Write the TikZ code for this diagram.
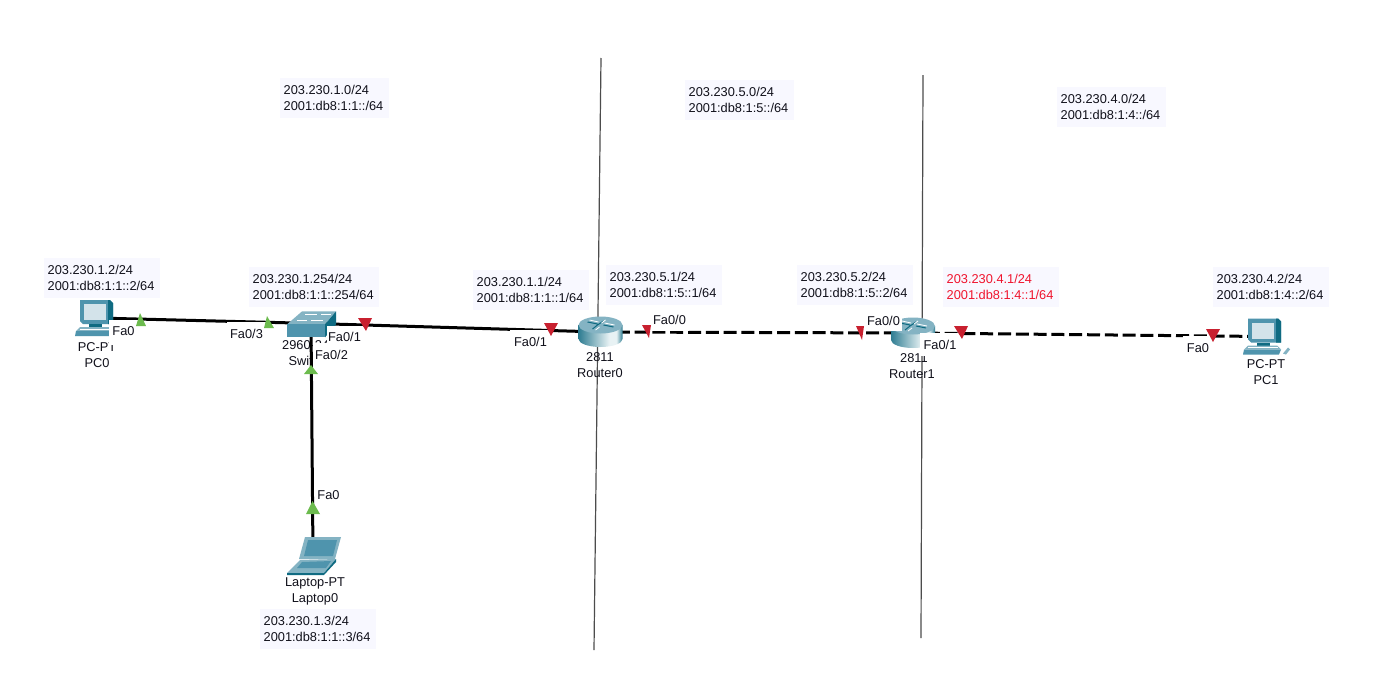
\documentclass[tikz,border=0pt]{standalone}
\usepackage{fontspec}
\setmainfont{Liberation Sans}
\definecolor{addrbg}{HTML}{F8F8FF}
\definecolor{linkc}{HTML}{000000}
\definecolor{upg}{HTML}{6CBB4E}
\definecolor{downr}{HTML}{C8202F}
\definecolor{redtxt}{HTML}{F0142D}
\definecolor{ink}{HTML}{10101A}
\definecolor{tealA}{HTML}{4F94AD}
\definecolor{tealB}{HTML}{0F6B82}
\definecolor{tealC}{HTML}{84B3C3}
\definecolor{tealD}{HTML}{D3E3EA}
\definecolor{bodyL}{HTML}{2F7D92}
\definecolor{bodyW}{HTML}{E8F2F4}
\pgfdeclarehorizontalshading{rbody}{100bp}{color(0bp)=(bodyL);color(25bp)=(bodyL);color(60bp)=(bodyW);color(68bp)=(bodyW);color(75bp)=(bodyL);color(100bp)=(bodyL)}
\tikzset{
  x=1pt,y=-1pt,
  txt/.style={font=\fontsize{12.8}{16}\selectfont,text=ink,inner sep=0pt,align=center},
  addr/.style={txt,anchor=north west,fill=addrbg,align=left,inner xsep=3.5pt,inner ysep=0pt,text width=#1-7pt,minimum height=40pt},
  port/.style n args={3}{font=\fontsize{12.8}{16}\selectfont,text=ink,inner sep=0pt,fill=white,anchor=base,text height=#1,text depth=#2,minimum width=#3},
  dev/.style={inner sep=0pt,outer sep=0pt,minimum size=0pt},
  wire/.style={line width=3pt,linkc},
  dashwire/.style={line width=3pt,linkc,dash pattern=on 13pt off 4.8pt},
  wall/.style={line width=1.2pt,black!70},
  pcicon/.pic={
    \fill[tealA] (-17,-18) -- (13,-18) -- (16,-15) -- (16,6) -- (-14,6) -- (-17,3) -- cycle;
    \fill[tealB] (11,-18) -- (13,-18) -- (16,-15) -- (16,6) -- (11,6) -- cycle;
    \fill[tealD] (-13,-14) rectangle (9,2);
    \fill[tealB] (-8,6) rectangle (5,9);
    \fill[tealC] (-17,9) -- (12,9) -- (16,13) -- (-21,13) -- cycle;
    \fill[tealA] (-21,13) -- (16,13) -- (14,18) -- (-22,18) -- cycle;
    \draw[white,line width=.5pt] (-17,11) -- (13,11);
    \fill[tealC] (18,17) -- (23,11) -- (25,13) -- (21,18) -- cycle;
  },
  switchicon/.pic={
    \fill[tealC] (-9,-12) -- (25,-12) -- (14,1) -- (-24,1) -- cycle;
    \fill[tealA] (-24,1) -- (14,1) -- (14,14) -- (-24,14) -- cycle;
    \fill[tealB] (14,1) -- (25,-12) -- (25,1) -- (14,14) -- cycle;
    \draw[white,line width=.8pt] (-6,-9) -- (6,-9) (10,-9) -- (20,-9) (-14,-3) -- (-4,-3) (0,-3) -- (12,-3);
  },
  routericon/.pic={
    \shade[shading=rbody] (-22,-7) -- (-22,7) arc[x radius=22,y radius=8,start angle=180,end angle=0] -- (22,-7) -- cycle;
    \fill[tealC] (0,-7) ellipse[x radius=22,y radius=8.5];
    \draw[tealB,line width=1pt] (-13,-10) -- (-3,-8) (3,-11) -- (-3,-7) (13,-5) -- (3,-7) (-3,-7) -- (-8,-3);
    \draw[white,line width=.8pt] (-11,-12) -- (-2,-10) (5,-12) -- (1,-9) (14,-7) -- (4,-9) (-1,-5) -- (-5,-2);
  },
  laptopicon/.pic={
    \fill[tealC] (-8,-18) -- (28,-18) -- (22,4) -- (-14,4) -- cycle;
    \fill[tealA] (-5,-15) -- (24,-15) -- (20,1) -- (-9,1) -- cycle;
    \fill[tealC] (-13,5) -- (23,4) -- (11,18) -- (-26,18) -- cycle;
    \fill[tealA] (-11,7) -- (18,6) -- (13,13) -- (-16,13) -- cycle;
    \fill[tealB] (23,4) -- (23,7) -- (11,20) -- (-26,20) -- (-26,18) -- (11,18) -- cycle;
  },
}
\begin{document}
\begin{tikzpicture}
\useasboundingbox (0,0) rectangle (1381,683);
\fill[white] (0,0) rectangle (1381,683);
% device anchors
\node[dev] (pc0) at (97,318) {};
\node[dev] (sw) at (311,323.4) {};
\node[dev] (lap) at (313,555) {};
\node[dev] (r0) at (600.5,332) {};
\node[dev] (r1) at (913,333) {};
\node[dev] (pc1) at (1265,336.5) {};
\coordinate (w1a) at (601,58);
\coordinate (w1b) at (594,650);
\coordinate (w2a) at (923,75);
\coordinate (w2b) at (921,638);
% address boxes
\node[addr=109pt] (n1) at (280,78) {203.230.1.0/24\\2001:db8:1:1::/64};
\node[addr=109pt] (n5) at (685,80) {203.230.5.0/24\\2001:db8:1:5::/64};
\node[addr=109pt] (n4) at (1057,87) {203.230.4.0/24\\2001:db8:1:4::/64};
\node[addr=116pt] (apc0) at (44,258) {203.230.1.2/24\\2001:db8:1:1::2/64};
\node[addr=130pt] (asw) at (249,267) {203.230.1.254/24\\2001:db8:1:1::254/64};
\node[addr=116pt] (ar0l) at (473,270) {203.230.1.1/24\\2001:db8:1:1::1/64};
\node[addr=116pt] (ar0r) at (606,265) {203.230.5.1/24\\2001:db8:1:5::1/64};
\node[addr=116pt] (ar1l) at (797,265) {203.230.5.2/24\\2001:db8:1:5::2/64};
\node[addr=116pt,text=redtxt] (ar1r) at (943,267) {203.230.4.1/24\\2001:db8:1:4::1/64};
\node[addr=116pt] (apc1) at (1213,267) {203.230.4.2/24\\2001:db8:1:4::2/64};
\node[addr=116pt] (alap) at (260,609) {203.230.1.3/24\\2001:db8:1:1::3/64};
% walls
\draw[wall] (w1a) -- (w1b);
\draw[wall] (w2a) -- (w2b);
% the switch's labels lie under its vertical link
\node[txt] (lswa) at (313.5,345) {2960-24TT};
\node[txt] (lswb) at (311,361) {Switch0};
% links
\draw[wire] (pc0.center) -- (sw.center);
\draw[wire] (sw.center) -- (r0.center);
\draw[wire] (lap.center) -- (sw.center);
\draw[dashwire,dash phase=1.5pt] (r0.center) -- (r1.center);
\draw[dashwire,dash phase=4pt] (r1.center) -- (pc1.center);
% icons
\pic at (pc0) {pcicon};
\pic at (pc1) {pcicon};
\pic at (sw) {switchicon};
\pic at (r0) {routericon};
\pic at (r1) {routericon};
\pic at (lap) {laptopicon};
% device labels
\node[txt] (lpc0a) at (97,347) {PC-PT};
\node[txt] (lpc0b) at (97,363) {PC0};
\node[txt] (lr0a) at (600,357) {2811};
\node[txt] (lr0b) at (600,373) {Router0};
\node[txt] (lr1a) at (914,358) {2811};
\node[txt] (lr1b) at (912,374) {Router1};
\node[txt] (lpc1a) at (1266,364) {PC-PT};
\node[txt] (lpc1b) at (1266,380) {PC1};
\node[txt] (llapa) at (315,583) {Laptop-PT};
\node[txt] (llapb) at (315,599) {Laptop0};
% port labels, their white boxes hide what lies under them
\node[port={15.6pt}{9.4pt}{29pt}] (p1) at (123.5,335.6) {Fa0};
\node[port={16.6pt}{6.4pt}{39pt}] (p2) at (246.5,338.6) {Fa0/3};
\node[port={15.6pt}{3.4pt}{36pt}] (p3) at (344.5,341.6) {Fa0/1};
\node[port={16.6pt}{10.4pt}{37pt}] (p4) at (331.5,359.6) {Fa0/2};
\node[port={16.6pt}{5.4pt}{41pt}] (p5) at (530.5,346.6) {Fa0/1};
\node[port={14.6pt}{6.4pt}{39pt}] (p6) at (669.5,324.6) {Fa0/0};
\node[port={13.6pt}{5.4pt}{37pt}] (p7) at (883.5,325.6) {Fa0/0};
\node[port={16.6pt}{6.4pt}{40pt}] (p8) at (940,349.6) {Fa0/1};
\node[port={16.6pt}{5.4pt}{30pt}] (p9) at (1198,352.6) {Fa0};
\node[port={15.6pt}{6.4pt}{27pt}] (p10) at (328.5,499.6) {Fa0};
% link lights
\fill[upg] (140,313) -- (146,326) -- (136,326) -- cycle;
\fill[upg] (267,316) -- (274,328) -- (264,328) -- cycle;
\fill[upg] (311,365) -- (318,374) -- (304,374) -- cycle;
\fill[upg] (312.5,501) -- (320,514) -- (306,514) -- cycle;
\fill[downr] (358,318) -- (372,318) -- (366,331) -- cycle;
\fill[downr] (544,323) -- (558,323) -- (551,336) -- cycle;
\fill[downr] (642,325) -- (651,325) -- (649,338) -- cycle;
\fill[downr] (856,326) -- (864,326) -- (862,340) -- cycle;
\fill[downr] (954,326) -- (968,326) -- (962,339) -- cycle;
\fill[downr] (1206,329) -- (1220,329) -- (1213,342) -- cycle;
\end{tikzpicture}
\end{document}
